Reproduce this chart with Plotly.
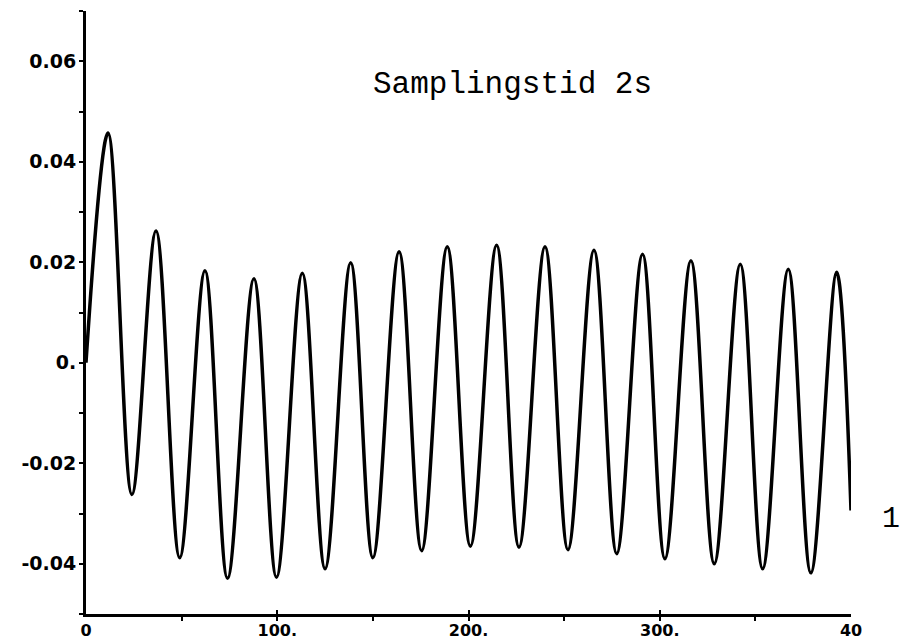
import plotly.graph_objects as go

# extrema of the oscillation (time, value)
t_points = [0, 11.5, 24, 36.6, 49, 62.2, 74, 87.8, 99.6, 113.1, 125, 138.4, 150,
            163.7, 175.5, 188.9, 201, 214.7, 226.4, 240, 252, 265.6, 277.5, 291,
            302.7, 316.3, 328.5, 342.1, 353.8, 367.2, 379, 392.5, 400]
values = [0.0, 0.0457, -0.0262, 0.0262, -0.0388, 0.0183, -0.0429, 0.0167, -0.0427,
          0.0178, -0.0410, 0.0199, -0.0388, 0.0221, -0.0374, 0.0231, -0.0365,
          0.0234, -0.0367, 0.0231, -0.0372, 0.0224, -0.0380, 0.0216, -0.0390,
          0.0203, -0.0400, 0.0196, -0.0410, 0.0186, -0.0418, 0.0180, -0.0294]

x_tickvals = [0, 100, 200, 300, 400]
x_ticktext = ["0", "100.", "200.", "300.", "40"]
y_tickvals = [-0.04, -0.02, 0, 0.02, 0.04, 0.06]
y_ticktext = ["-0.04", "-0.02", "0.", "0.02", "0.04", "0.06"]

title_text = "Samplingstid 2s"
side_text = "1"

fig = go.Figure()
fig.add_trace(go.Scatter(
    x=t_points, y=values, mode="lines",
    line=dict(color="black", width=3.5, shape="spline", smoothing=1.0),
    showlegend=False, hoverinfo="skip",
))

xfont = dict(family="DejaVu Sans", size=16, color="black", weight="bold")
yfont = dict(family="DejaVu Sans", size=19, color="black", weight="bold")

fig.update_layout(
    width=910, height=642,
    margin=dict(l=86, r=59, t=11, b=28),
    paper_bgcolor="white", plot_bgcolor="white",
    xaxis=dict(
        range=[0, 400], showgrid=False, zeroline=False,
        showline=True, linecolor="black", linewidth=3,
        tickvals=x_tickvals, ticktext=x_ticktext,
        ticks="inside", ticklen=4, tickwidth=2, tickcolor="black",
        minor=dict(dtick=50, tick0=0, ticks="outside", ticklen=4, tickwidth=2, tickcolor="black"),
        tickfont=xfont, automargin=False,
    ),
    yaxis=dict(
        range=[-0.05, 0.07], showgrid=False, zeroline=False,
        showline=True, linecolor="black", linewidth=3,
        tickvals=y_tickvals, ticktext=y_ticktext,
        ticks="outside", ticklen=3, tickwidth=2, tickcolor="black",
        minor=dict(dtick=0.01, tick0=0, ticks="outside", ticklen=4, tickwidth=2, tickcolor="black"),
        tickfont=yfont, automargin=False,
    ),
    annotations=[
        dict(text=title_text, xref="paper", yref="paper", x=0.372, y=0.878,
             xanchor="left", yanchor="middle", showarrow=False,
             font=dict(family="Liberation Mono", size=31, color="black")),
        dict(text=side_text, xref="paper", yref="paper", x=1.052, y=0.157,
             xanchor="center", yanchor="middle", showarrow=False,
             font=dict(family="Liberation Mono", size=30, color="black")),
    ],
)

fig.write_html("out.html")
